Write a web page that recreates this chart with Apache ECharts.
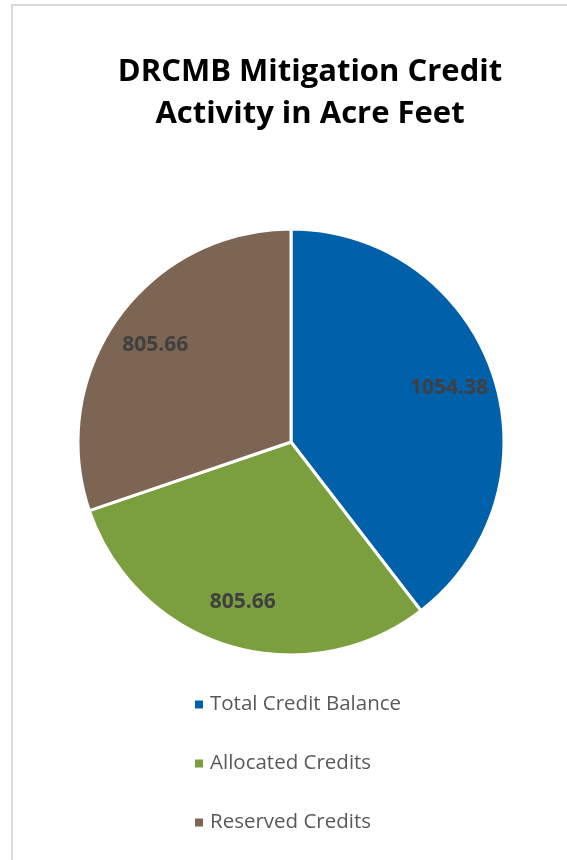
<!DOCTYPE html>
<html>
<head>
<meta charset="utf-8">
<script src="https://cdn.jsdelivr.net/npm/echarts@6/dist/echarts.min.js"></script>
<style>
html,body{margin:0;padding:0;background:#fff;}
#chart{width:567px;height:860px;}
</style>
</head>
<body>
<div id="chart"></div>
<script>
const titleText = 'DRCMB Mitigation Credit\nActivity in Acre Feet';
const categories = ['Total Credit Balance', 'Allocated Credits', 'Reserved Credits'];
const values = [1054.38, 805.66, 805.66];
const colors = ['#0060AA', '#7B9F3E', '#7C6552'];

const chart = echarts.init(document.getElementById('chart'));
const pieData = categories.map((c, i) => ({ name: c, value: values[i], itemStyle: { color: colors[i] } }));
const labelData = categories.map((c, i) => ({ name: c, value: values[i] }));

chart.setOption({
  animation: false,
  backgroundColor: '#ffffff',
  graphic: [{
    type: 'rect',
    shape: { x: 12, y: 5, width: 700, height: 1000 },
    style: { fill: 'none', stroke: '#D9D9D9', lineWidth: 2 },
    silent: true
  }],
  title: {
    text: titleText,
    left: 305,
    textAlign: 'center',
    top: 46,
    textStyle: {
      fontFamily: 'Open Sans',
      fontWeight: 'bold',
      fontSize: 31,
      lineHeight: 42,
      color: '#000000'
    }
  },
  legend: {
    orient: 'vertical',
    left: 188,
    top: 689,
    itemGap: 38,
    itemWidth: 10,
    itemHeight: 10,
    icon: 'rect',
    data: categories,
    textStyle: { fontFamily: 'Open Sans', fontSize: 20.5, lineHeight: 20, color: '#595959', padding: [0, 0, 0, 1] }
  },
  series: [
    {
      type: 'pie',
      center: [291, 442],
      radius: [0, 213],
      startAngle: 90,
      clockwise: true,
      silent: true,
      label: { show: false },
      labelLine: { show: false },
      itemStyle: { borderColor: '#ffffff', borderWidth: 3 },
      data: pieData
    },
    {
      type: 'pie',
      center: [291, 442],
      radius: [0, 328],
      startAngle: 90,
      clockwise: true,
      silent: true,
      itemStyle: { color: 'rgba(0,0,0,0)' },
      label: {
        show: true,
        position: 'inside',
        formatter: p => p.value.toFixed(2),
        fontFamily: 'Open Sans',
        fontWeight: 'bold',
        fontSize: 21,
        color: '#404040'
      },
      labelLine: { show: false },
      data: labelData
    }
  ]
});
</script>
</body>
</html>
